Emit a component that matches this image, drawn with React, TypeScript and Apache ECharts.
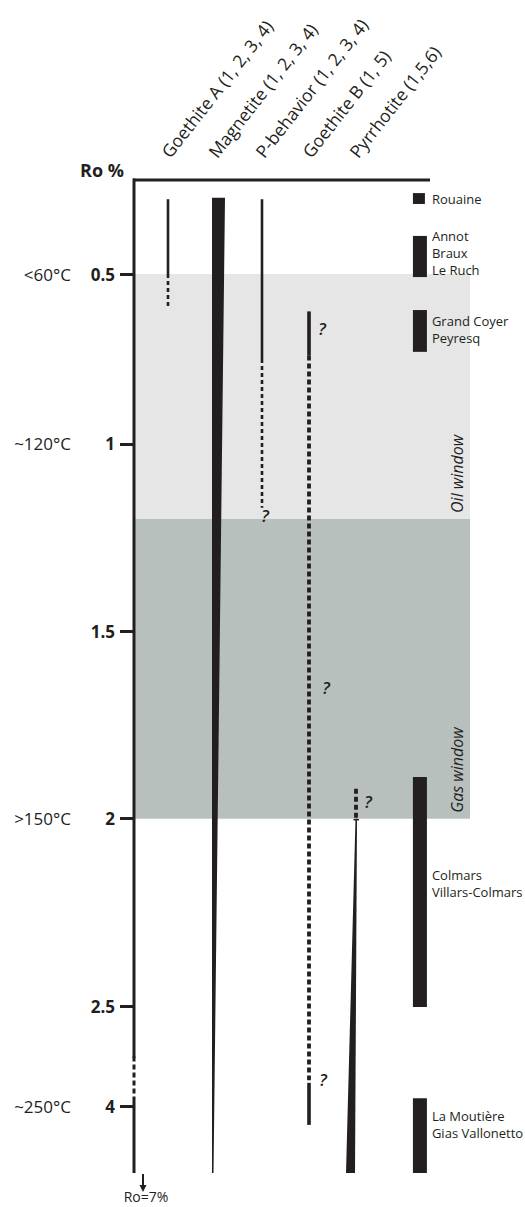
import React, { useEffect, useRef } from "react";
import * as echarts from "echarts";

// ---------- data ----------
const COLUMNS = [
  "Goethite A (1, 2, 3, 4)",
  "Magnetite (1, 2, 3, 4)",
  "P-behavior (1, 2, 3, 4)",
  "Goethite B (1, 5)",
  "Pyrrhotite (1,5,6)",
];
const COLUMN_POS = [1, 2, 3, 4, 5];

const RO_TICKS = [0.5, 1, 1.5, 2, 2.5, 4];
const RO_TICK_LABELS = ["0.5", "1", "1.5", "2", "2.5", "4"];
const TEMP_RO = [0.5, 1, 2, 4];
const TEMP_LABELS = ["<60°C", "~120°C", ">150°C", "~250°C"];

// broken Ro axis: Ro knots -> linear scale units
const RO_KNOTS = [0.2235, 1, 2.5, 5];
const SCALE_KNOTS = [0.2954, 1, 2.5, 2.9457];

const WINDOW_NAMES = ["Oil window", "Gas window"];
const WINDOW_FROM = [0.5, 1.2];
const WINDOW_TO = [1.2, 2.0];

// vertical range segments
const SEG_COL = [1, 1, 3, 3, 4, 4, 4, 5];
const SEG_FROM = [0.28, 0.5, 0.28, 0.75, 0.61, 0.74, 3.65, 1.92];
const SEG_TO = [0.5, 0.6, 0.75, 1.17, 0.74, 3.61, 4.28, 2.0];
const SEG_KIND = ["thin", "thinDot", "thin", "thinDot", "bold", "boldDot", "bold", "boldDot"];

// tapering ranges
const WEDGE_COL = [2, 5];
const WEDGE_FROM = [0.276, 2.0];
const WEDGE_TO = [5, 5];
const WEDGE_KIND = ["narrowing", "widening"];

// uncertainty marks
const Q_COL = [3, 4, 4, 4, 5];
const Q_RO = [1.19, 0.66, 1.65, 3.6, 1.955];
const Q_DX = [3, 13, 17, 14, 12];

// localities
const LOC_NAMES = [
  ["Rouaine"],
  ["Annot", "Braux", "Le Ruch"],
  ["Grand Coyer", "Peyresq"],
  ["Colmars", "Villars-Colmars"],
  ["La Moutière", "Gias Vallonetto"],
];
const LOC_FROM = [0.262, 0.388, 0.606, 1.889, 3.88];
const LOC_TO = [0.294, 0.509, 0.729, 2.515, 5.0];
const LOC_LABEL_RO = [0.278, 0.438, 0.662, 2.174, 4.278];
const LOC_COLUMN = 6.36;

// Ro axis line with break
const AXIS_FROM = [0.2235, 3.28, 3.9];
const AXIS_TO = [3.28, 3.88, 5];
const AXIS_KIND = ["axis", "axisDot", "axis"];

// ---------- helpers ----------
const INK = "#231f20";
const FONT = "'Open Sans', 'Noto Sans', sans-serif";
const X_MIN = 0.2553;
const X_MAX = 7.4255;
const HEADER_ANGLE = (52 * Math.PI) / 180;

function toScale(ro: number): number {
  let i = 0;
  while (i < RO_KNOTS.length - 2 && ro > RO_KNOTS[i + 1]) i++;
  const r0 = RO_KNOTS[i], r1 = RO_KNOTS[i + 1];
  const s0 = SCALE_KNOTS[i], s1 = SCALE_KNOTS[i + 1];
  return s0 + ((ro - r0) * (s1 - s0)) / (r1 - r0);
}

const Y_MIN = toScale(RO_KNOTS[0]);
const Y_MAX = toScale(RO_KNOTS[RO_KNOTS.length - 1]);

function labelFor(v: number, ros: number[], labels: string[]): string {
  for (let i = 0; i < ros.length; i++) {
    if (Math.abs(toScale(ros[i]) - v) < 1e-6) return labels[i];
  }
  return "";
}

const LINE_STYLES: Record<string, any> = {
  thin: { lineWidth: 2.6 },
  thinDot: { lineWidth: 2.6, lineDash: [4, 3] },
  bold: { lineWidth: 3.6 },
  boldDot: { lineWidth: 3.8, lineDash: [5, 3] },
  axis: { lineWidth: 3 },
  axisDot: { lineWidth: 3, lineDash: [5, 3] },
};

function txt(x: number, y: number, text: string, font: string, align: string, valign: string, extra: any = {}) {
  return {
    type: "text",
    x,
    y,
    ...extra,
    style: {
      text,
      font,
      fill: INK,
      align,
      textAlign: align,
      verticalAlign: valign,
      textVerticalAlign: valign,
      lineHeight: 17,
    },
  };
}

export default function App() {
  const ref = useRef<HTMLDivElement>(null);

  useEffect(() => {
    document.body.style.margin = "0";
    const chart = echarts.init(ref.current!, undefined, { renderer: "svg" });

    const option: any = {
      animation: false,
      backgroundColor: "#ffffff",
      textStyle: { fontFamily: FONT },
      grid: { left: 133, right: 55, top: 180, bottom: 34 },
      xAxis: {
        type: "value",
        position: "top",
        min: X_MIN,
        max: X_MAX,
        axisLine: { show: false },
        axisTick: { show: false },
        splitLine: { show: false },
        axisLabel: { show: false },
      },
      yAxis: [
        {
          type: "value",
          inverse: true,
          min: Y_MIN,
          max: Y_MAX,
          axisLine: { show: false },
          splitLine: { show: false },
          axisTick: {
            show: true,
            customValues: RO_TICKS.map(toScale),
            length: 13,
            lineStyle: { width: 3, color: INK },
          },
          axisLabel: {
            customValues: RO_TICKS.map(toScale),
            formatter: (v: number) => labelFor(v, RO_TICKS, RO_TICK_LABELS),
            margin: 18,
            fontSize: 17,
            fontWeight: "bold",
            fontFamily: FONT,
            color: INK,
          },
        },
        {
          type: "value",
          inverse: true,
          position: "left",
          offset: 62,
          min: Y_MIN,
          max: Y_MAX,
          axisLine: { show: false },
          splitLine: { show: false },
          axisTick: { show: false },
          axisLabel: {
            customValues: TEMP_RO.map(toScale),
            formatter: (v: number) => labelFor(v, TEMP_RO, TEMP_LABELS),
            margin: 0,
            fontSize: 17,
            fontFamily: FONT,
            color: INK,
          },
        },
      ],
      graphic: [
        {
          type: "line",
          shape: { x1: 133, y1: 180, x2: 430, y2: 180 },
          style: { stroke: INK, lineWidth: 3 },
          z: 10,
        },
        {
          type: "text",
          x: 102,
          y: 170,
          style: { text: "Ro %", font: `bold 18px ${FONT}`, fill: INK, align: "center", verticalAlign: "middle", textAlign: "center", textVerticalAlign: "middle" },
        },
        {
          type: "line",
          shape: { x1: 143, y1: 1174, x2: 143, y2: 1186 },
          style: { stroke: INK, lineWidth: 2 },
        },
        {
          type: "polygon",
          shape: { points: [[139.5, 1185], [146.5, 1185], [143, 1192]] },
          style: { fill: INK },
        },
        {
          type: "text",
          x: 146,
          y: 1196,
          style: { text: "Ro=7%", font: `14px ${FONT}`, fill: INK, align: "center", verticalAlign: "middle", textAlign: "center", textVerticalAlign: "middle" },
        },
      ],
      series: [
        {
          type: "custom",
          name: "windows",
          z: 1,
          encode: { x: 0, y: [1, 2] },
          data: WINDOW_NAMES.map((n, i) => [X_MIN, toScale(WINDOW_FROM[i]), toScale(WINDOW_TO[i])]),
          renderItem: (params: any, api: any) => {
            const i = params.dataIndex;
            const cs = params.coordSys;
            const y1 = api.coord([X_MIN, api.value(1)])[1];
            const y2 = api.coord([X_MIN, api.value(2)])[1];
            return {
              type: "group",
              children: [
                {
                  type: "rect",
                  shape: { x: cs.x, y: y1, width: cs.width, height: y2 - y1 },
                  style: { fill: i === 0 ? "#e6e6e6" : "#b8c0bd" },
                },
                txt(cs.x + cs.width - 13, y2 - 6, WINDOW_NAMES[i], `italic 16px ${FONT}`, "left", "middle", {
                  rotation: Math.PI / 2,
                }),
              ],
            };
          },
        },
        {
          type: "custom",
          name: "headers",
          z: 5,
          clip: false,
          encode: { x: 0, y: 1 },
          data: COLUMN_POS.map((c) => [c, Y_MIN]),
          renderItem: (params: any, api: any) => {
            const i = params.dataIndex;
            const p = api.coord([api.value(0), api.value(1)]);
            return txt(p[0] - 3, p[1] - 25, COLUMNS[i], `17.5px ${FONT}`, "left", "middle", {
              rotation: HEADER_ANGLE,
            });
          },
        },
        {
          type: "custom",
          name: "ranges",
          z: 3,
          encode: { x: 0, y: [1, 2] },
          data: SEG_COL.map((c, i) => [c, toScale(SEG_FROM[i]), toScale(SEG_TO[i])]),
          renderItem: (params: any, api: any) => {
            const i = params.dataIndex;
            const p1 = api.coord([api.value(0), api.value(1)]);
            const p2 = api.coord([api.value(0), api.value(2)]);
            return {
              type: "line",
              shape: { x1: p1[0], y1: p1[1], x2: p2[0], y2: p2[1] },
              style: { stroke: INK, lineCap: "butt", ...LINE_STYLES[SEG_KIND[i]] },
            };
          },
        },
        {
          type: "custom",
          name: "axisLine",
          z: 4,
          encode: { x: 0, y: [1, 2] },
          data: AXIS_FROM.map((f, i) => [X_MIN, toScale(f), toScale(AXIS_TO[i])]),
          renderItem: (params: any, api: any) => {
            const i = params.dataIndex;
            const p1 = api.coord([api.value(0), api.value(1)]);
            const p2 = api.coord([api.value(0), api.value(2)]);
            return {
              type: "line",
              shape: { x1: p1[0] + 1, y1: p1[1] - 1.5, x2: p2[0] + 1, y2: p2[1] },
              style: { stroke: INK, lineCap: "butt", ...LINE_STYLES[AXIS_KIND[i]] },
            };
          },
        },
        {
          type: "custom",
          name: "wedges",
          z: 3,
          encode: { x: 0, y: [1, 2] },
          data: WEDGE_COL.map((c, i) => [c, toScale(WEDGE_FROM[i]), toScale(WEDGE_TO[i])]),
          renderItem: (params: any, api: any) => {
            const i = params.dataIndex;
            const p1 = api.coord([api.value(0), api.value(1)]);
            const p2 = api.coord([api.value(0), api.value(2)]);
            const c = p1[0];
            const pts =
              WEDGE_KIND[i] === "narrowing"
                ? [[c - 3, p1[1]], [c + 10, p1[1]], [c - 1.5, p2[1]], [c - 3, p2[1]]]
                : [[c - 0.5, p1[1]], [c + 1, p1[1]], [c - 1, p2[1]], [c - 10, p2[1]]];
            const children: any[] = [{ type: "polygon", shape: { points: pts }, style: { fill: INK } }];
            if (WEDGE_KIND[i] === "widening") {
              children.push({
                type: "line",
                shape: { x1: c - 2.5, y1: p1[1] + 1, x2: c + 3, y2: p1[1] + 1 },
                style: { stroke: INK, lineWidth: 1.5 },
              });
            }
            return { type: "group", children };
          },
        },
        {
          type: "custom",
          name: "uncertain",
          z: 5,
          encode: { x: 0, y: 1 },
          data: Q_COL.map((c, i) => [c, toScale(Q_RO[i])]),
          renderItem: (params: any, api: any) => {
            const i = params.dataIndex;
            const p = api.coord([api.value(0), api.value(1)]);
            return txt(p[0] + Q_DX[i], p[1], "?", `italic 600 17px ${FONT}`, "center", "middle");
          },
        },
        {
          type: "custom",
          name: "localities",
          z: 5,
          encode: { x: 0, y: [1, 2] },
          data: LOC_NAMES.map((n, i) => [LOC_COLUMN, toScale(LOC_FROM[i]), toScale(LOC_TO[i]), toScale(LOC_LABEL_RO[i])]),
          renderItem: (params: any, api: any) => {
            const i = params.dataIndex;
            const p1 = api.coord([api.value(0), api.value(1)]);
            const p2 = api.coord([api.value(0), api.value(2)]);
            const pl = api.coord([api.value(0), api.value(3)]);
            const w = i === 0 ? 12 : 14;
            return {
              type: "group",
              children: [
                {
                  type: "rect",
                  shape: { x: p1[0] - 7, y: p1[1], width: w, height: p2[1] - p1[1] },
                  style: { fill: INK },
                },
                txt(p1[0] + 12, pl[1], LOC_NAMES[i].join("\n"), `13px ${FONT}`, "left", "middle"),
              ],
            };
          },
        },
      ],
    };

    chart.setOption(option);
    return () => chart.dispose();
  }, []);

  return (
    <div
      ref={ref}
      style={{ position: "absolute", left: 0, top: 0, width: 525, height: 1207, background: "#fff" }}
    />
  );
}
